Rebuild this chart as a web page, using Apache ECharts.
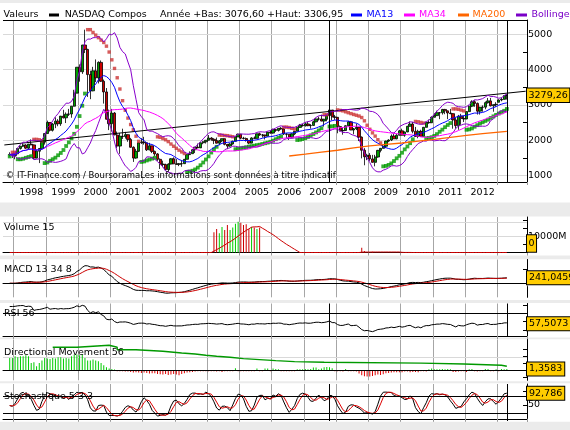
<!DOCTYPE html>
<html>
<head>
<meta charset="utf-8">
<script src="https://cdn.jsdelivr.net/npm/echarts@6.0.0/dist/echarts.min.js"></script>
<style>
html,body{margin:0;padding:0;background:#EBEBEB;}
#chart{width:570px;height:430px;}
</style>
</head>
<body>
<div id="chart"></div>
<script>
// ---------------- data (monthly NASDAQ Composite) ----------------
const axisStart = '1997-09';
const axisEnd = '2013-11';
const firstDataMonth = '1997-11';
const yearLabels = ['1998','1999','2000','2001','2002','2003','2004','2005','2006','2007','2008','2009','2010','2011','2012'];

const opens = [1593,1601,
1570,1619,1771,1836,1868,1779,1895,1872,1499,1694,1771,1950,
2193,2506,2288,2461,2543,2471,2686,2638,2739,2746,2966,3336,
4069,3940,4697,4573,3861,3401,3966,3767,4206,3673,3370,2598,
2471,2773,2152,1840,2116,2110,2161,2027,1805,1499,1690,1931,
1950,1934,1731,1845,1688,1616,1463,1328,1315,1172,1330,1479,
1336,1321,1338,1341,1464,1596,1623,1735,1810,1787,1932,1960,
2003,2066,2030,1994,1920,1987,2048,1887,1838,1897,1975,2097,
2175,2062,2052,1999,1922,2068,2057,2185,2152,2152,2120,2233,
2205,2306,2281,2340,2323,2179,2172,2091,2184,2258,2367,2432,
2415,2464,2416,2422,2525,2605,2603,2546,2596,2702,2859,2661,
2652,2390,2271,2279,2413,2523,2293,2326,2368,2092,1721,1536,
1577,1476,1378,1529,1717,1774,1835,1979,2009,2122,2045,2145,
2269,2147,2238,2398,2461,2257,2109,2255,2114,2369,2507,2498,
2653,2700,2782,2781,2874,2835,2774,2756,2579,2415,2684,2620,
2605,2814,2967,3092,3046,2827,2935,2940,3067,3116,2977,3010,
3077,3142,3160,3268];
const highs = [1662,1633,
1630,1774,1842,1912,1890,1896,2028,1885,1740,1780,1960,2200,
2558,2507,2490,2652,2600,2690,2865,2790,2890,2970,3430,4070,
4150,4700,5132,4590,3970,4080,4290,4235,4260,3720,3480,2870,
2890,2800,2250,2210,2330,2240,2170,2070,1830,1760,1940,2060,
2100,1935,1930,1845,1710,1640,1490,1425,1340,1350,1495,1520,
1470,1360,1440,1470,1600,1690,1760,1812,1910,1940,1980,2010,
2150,2090,2060,2080,2010,2050,2050,1890,1920,1990,2110,2190,
2180,2100,2080,2010,2090,2110,2190,2220,2180,2160,2240,2280,
2333,2310,2345,2375,2350,2200,2175,2200,2265,2370,2465,2470,
2510,2530,2460,2560,2625,2670,2725,2610,2720,2861,2860,2720,
2660,2420,2370,2430,2550,2550,2350,2475,2370,2110,1780,1620,
1640,1590,1590,1730,1780,1880,1990,2030,2170,2190,2190,2295,
2330,2250,2410,2535,2520,2380,2300,2300,2380,2530,2590,2680,
2770,2840,2800,2890,2890,2840,2890,2770,2650,2720,2750,2700,
2820,2990,3135,3135,3070,2950,2990,3100,3200,3200,3020,3080,
3160,3213,3270,3307];
const lows = [1545,1502,
1465,1612,1740,1810,1760,1730,1860,1475,1490,1357,1765,1880,
2190,2250,2250,2345,2400,2410,2620,2490,2690,2640,2955,3335,
3660,3880,4470,3228,3165,3390,3650,3610,3650,3040,2590,2290,
2250,2150,1780,1620,2040,2050,1960,1790,1390,1480,1670,1900,
1880,1700,1720,1640,1560,1420,1190,1240,1165,1108,1320,1330,
1310,1271,1253,1340,1460,1590,1620,1640,1780,1785,1890,1910,
2000,1990,1895,1915,1860,1950,1860,1750,1820,1880,1970,2095,
2030,2025,1965,1890,1915,2040,2050,2130,2080,2025,2110,2190,
2190,2240,2250,2300,2150,2065,2010,2060,2150,2250,2360,2390,
2390,2400,2330,2410,2510,2560,2540,2390,2540,2690,2570,2580,
2200,2250,2160,2270,2400,2290,2170,2290,1980,1490,1295,1440,
1420,1370,1265,1510,1660,1770,1780,1950,1980,2040,2030,2140,
2140,2100,2230,2390,2200,2100,2060,2100,2110,2360,2470,2490,
2650,2690,2600,2730,2740,2600,2740,2330,2330,2300,2440,2520,
2600,2800,2940,2950,2730,2730,2810,2880,3040,2960,2810,2950,
3077,3105,3150,3154];
const closes = [1601,1570,
1619,1771,1836,1868,1779,1895,1872,1499,1694,1771,1950,2193,
2506,2288,2461,2543,2471,2686,2638,2739,2746,2966,3336,4069,
3940,4697,4573,3861,3401,3966,3767,4206,3673,3370,2598,2471,
2773,2152,1840,2116,2110,2161,2027,1805,1499,1690,1931,1950,
1934,1731,1845,1688,1616,1463,1328,1315,1172,1330,1479,1336,
1321,1338,1341,1464,1596,1623,1735,1810,1787,1932,1960,2003,
2066,2030,1994,1920,1987,2048,1887,1838,1897,1975,2097,2175,
2062,2052,1999,1922,2068,2057,2185,2152,2152,2120,2233,2205,
2306,2281,2340,2323,2179,2172,2091,2184,2258,2367,2432,2415,
2464,2416,2422,2525,2605,2603,2546,2596,2702,2859,2661,2652,
2390,2271,2279,2413,2523,2293,2326,2368,2092,1721,1536,1577,
1476,1378,1529,1717,1774,1835,1979,2009,2122,2045,2145,2269,
2147,2238,2398,2461,2257,2109,2255,2114,2369,2507,2498,2653,
2700,2782,2781,2874,2835,2774,2756,2579,2415,2684,2620,2605,
2814,2967,3092,3046,2827,2935,2940,3067,3116,2977,3010,3020,
3142,3160,3268,3279.26];

// Directional Movement histogram (one bar per month, Nov 1997 .. Apr 2013)
const dmHist = [12.3,12.3,
14,13,14,14,15,14,7.3,8,4,7.3,9.7,12.3,
11.7,11.3,12.3,11.7,13,13,11.7,12.3,11.7,14,15.7,15.7,
15,15.7,12.3,9.7,9.7,10.7,9.7,9,7.3,5,3,1.7,
1.3,0.7,-1,-1,-1,-1.3,-1.3,-1.7,-2.3,-2,-2.3,-2.7,
-2.3,-2.7,-3.3,-3,-3,-3.7,-4,-4.3,-3.7,-4.7,-4.3,-3.7,
-4.3,-5,-3.7,-3,-2.3,-2,-1.7,-1.3,-1,-1,-1,-1,
-1,-1,-1,-1.3,-1,-1.7,-1,-1,-1,-1,2,-1,
-1,-1,-1,-1,-1,-1,1.7,-1,-1,1.7,1.7,-1,
1.7,1.3,1,-1,-1,-1,-1,-1,-1,1,1,1,
1.3,1,1.3,2.7,2.7,1,1.7,3,3.3,3,2,-1,
-1,-1,-1.3,1.3,-1,-1,-1,-1.3,-3.3,-5,-6,-6.3,
-6.3,-5.7,-5,-4.3,-4.7,-4,-3,-2.7,-2.3,-2,-2,-2,
-2,-1.3,-1.3,-2,-1.7,-1.7,-2,-1,-1,-1.3,1,1.7,
1,1,1,1.3,1,1.3,1,-1.7,-1.7,-1.3,-1,-1,
-1.7,1,1.3,-1,-1.3,-1,-1,1.3,1.3,-1,-1,1,
-1,1.3,1,1.36];

// green line of the Directional Movement panel (value held until the next point)
const adxMonths = ['1999-03','1999-12','2000-12','2001-03','2001-10','2002-08','2003-03','2003-08','2003-12','2004-04','2004-09','2005-02','2005-08','2006-02','2006-09','2007-08','2010-08','2011-12','2013-02','2013-04'];
const adxValues = [23,25,23,20.6,19,17.3,16.3,15,14,13,11.7,10.7,9.7,8.7,8,7.2,6.3,5,4,4];

// MA200 (needs history older than the window)
const ma200Months = ['2006-07','2007-01','2007-07','2008-01','2008-07','2009-01','2009-07','2010-01','2010-07','2011-01','2011-07','2012-01','2012-07','2013-01','2013-04'];
const ma200Values = [1557,1610,1665,1720,1790,1845,1885,1925,1980,2030,2085,2140,2190,2235,2255];

// long-term trend line end points
const trendMonths = ['1997-09','2013-11'];
const trendValues = [1870,3390];

// volume (millions) - only these months carry volume in the picture
const volMonths = ['2004-03','2004-04','2004-05','2004-06','2004-07','2004-08','2004-09','2004-10','2004-11','2004-12','2005-01','2005-02','2005-03','2005-04','2005-05','2005-06','2005-07','2005-08','2008-10','2008-11','2009-02'];
const volValues = [12500,14500,11900,15800,13900,17000,13900,15400,17700,18900,18300,17000,17400,14500,15800,15400,14500,15400,2900,1000,500];

// last values shown in the right-hand boxes
const lastLabels = {price:'3279,26', volume:'0', macd:'241,0459', rsi:'57,5073', dm:'1,3583', stoch:'92,786'};
const lastValues = {price:3279.26, volume:0, macd:241.0459, rsi:57.5073, dm:1.3583, stoch:92.786};

// ---------------- categories ----------------
const categories = [];
for (let y = 1997; y <= 2013; y++) for (let m = 1; m <= 12; m++) {
  const k = y + '-' + (m < 10 ? '0' : '') + m;
  if (k >= axisStart && k <= axisEnd) categories.push(k);
}
const s0 = categories.indexOf(firstDataMonth);
const months = categories.slice(s0, s0 + closes.length);

// ---------------- indicators named on the chart, derived from the candles ----------------
function sma(a, p) {
  return a.map((_, i) => { const s = Math.max(0, i - p + 1); let t = 0; for (let j = s; j <= i; j++) t += a[j]; return t / (i - s + 1); });
}
function boll(a, p, k) {
  const m = sma(a, p), up = [], lo = [];
  a.forEach((_, i) => { const s = Math.max(0, i - p + 1); let v = 0; for (let j = s; j <= i; j++) v += (a[j] - m[i]) ** 2; const sd = Math.sqrt(v / (i - s + 1)); up.push(m[i] + k * sd); lo.push(m[i] - k * sd); });
  return {up, lo};
}
function ema(a, p) { const k = 2 / (p + 1); const o = []; a.forEach((v, i) => o.push(i ? o[i - 1] + k * (v - o[i - 1]) : v)); return o; }
function wilder(x, p, seedN) {
  let s = 0; for (let i = 1; i <= seedN; i++) s += x[i]; let a = s / seedN;
  const out = new Array(x.length);
  for (let i = 1; i < x.length; i++) { const n = Math.min(seedN + i, p); a = a + (x[i] - a) / n; out[i] = a; }
  out[0] = out[1]; return out;
}
function psar(H, L, step, maxAf) {
  const sar = [], up = [];
  let isUp = true, af = step, ep = H[0], s = L[0];
  sar.push(s); up.push(true);
  for (let i = 1; i < H.length; i++) {
    s = s + af * (ep - s);
    if (isUp) {
      s = Math.min(s, L[i - 1], i > 1 ? L[i - 2] : L[i - 1]);
      if (L[i] < s) { isUp = false; s = ep; ep = L[i]; af = step; }
      else if (H[i] > ep) { ep = H[i]; af = Math.min(af + step, maxAf); }
    } else {
      s = Math.max(s, H[i - 1], i > 1 ? H[i - 2] : H[i - 1]);
      if (H[i] > s) { isUp = true; s = ep; ep = H[i]; af = step; }
      else if (L[i] < ep) { ep = L[i]; af = Math.min(af + step, maxAf); }
    }
    sar.push(s); up.push(isUp);
  }
  return {sar, up};
}

const ma13 = sma(closes, 13);
const ma34 = sma(closes, 34);
const bb = boll(closes, 13, 2);
const sarRes = psar(highs, lows, 0.02, 0.2);
const ema13 = ema(closes, 13), ema34 = ema(closes, 34);
const macd = ema13.map((v, i) => v - ema34[i]);
const signal = ema(macd, 8);

const gains = closes.map((c, i) => i ? Math.max(c - closes[i - 1], 0) : 0);
const losses = closes.map((c, i) => i ? Math.max(closes[i - 1] - c, 0) : 0);
const ag = wilder(gains, 56, 28), al = wilder(losses, 56, 28);
const rsi = ag.map((g, i) => 100 * g / (g + al[i]));

const rawK = closes.map((c, i) => { const s = Math.max(0, i - 4); let hh = -Infinity, ll = Infinity; for (let j = s; j <= i; j++) { hh = Math.max(hh, highs[j]); ll = Math.min(ll, lows[j]); } return hh > ll ? 100 * (c - ll) / (hh - ll) : 50; });
const stochK = sma(rawK, 3);
const stochD = sma(stochK, 3);

const volFull = months.map(m => { const j = volMonths.indexOf(m); return j >= 0 ? volValues[j] : 0; });
const volMA = sma(volFull, 15);

// ---------------- styling helpers ----------------
const FONT = 'DejaVu Sans';
const FS = 9.5;
const GREEN = '#00A000', RED = '#CC0000';
const isJan = (i, v) => v.slice(5) === '01';
const pair = arr => arr.map((v, i) => [months[i], v]);

const grids = [
  {left: 3, top: 20, width: 524, height: 162},
  {left: 3, top: 217, width: 524, height: 35.5},
  {left: 3, top: 259.5, width: 524, height: 37.8},
  {left: 3, top: 303.5, width: 524, height: 32.5},
  {left: 3, top: 339.5, width: 524, height: 40.8},
  {left: 3, top: 384, width: 524, height: 37}
];
const yRanges = [[822, 5405], [0, 21900], [-620, 1050], [42.7, 81.8], [-10, 30.8], [-8, 126]];
const yTicks = [[1000,1500,2000,2500,3000,3500,4000,4500,5000], [5000,10000,15000,20000], [600], [50,60,80], [-7,7.3,14,20.7], [50,100]];
const yLabs = [[1000,2000,3000,4000,5000], [10000], [], [], [], [50]];

const xAxes = grids.map((g, k) => ({
  type: 'category', gridIndex: k, data: categories, boundaryGap: true,
  axisLine: {show: true, lineStyle: {color: '#000', width: 1}},
  axisTick: {show: true, interval: isJan, length: 3, lineStyle: {color: '#999'}},
  splitLine: {show: true, interval: isJan, lineStyle: {color: '#A6A6A6', width: 1}},
  axisLabel: k === 0 ? {
    show: true, interval: (i, v) => v.slice(5) === '07' && yearLabels.includes(v.slice(0, 4)),
    formatter: v => v.slice(0, 4), color: '#000', fontFamily: FONT, fontSize: FS, margin: 6
  } : {show: false}
}));
const yAxes = grids.map((g, k) => ({
  type: 'value', gridIndex: k, position: 'right', min: yRanges[k][0], max: yRanges[k][1], scale: true,
  axisLine: {show: true, lineStyle: {color: '#000', width: 1}},
  axisTick: {show: true, inside: true, length: 4, customValues: yTicks[k], lineStyle: {color: '#000'}},
  axisLabel: {show: yLabs[k].length > 0, customValues: yLabs[k], margin: 1, color: '#000', fontFamily: FONT, fontSize: FS,
    formatter: v => k === 1 ? v + 'M' : String(v)},
  splitLine: {show: false}
}));

const vLines = (extra) => ({
  symbol: 'none', silent: true, label: {show: false}, animation: false,
  lineStyle: {color: '#000', type: 'solid', width: 1},
  data: extra
});
const greyLines = (vals) => ({
  symbol: 'none', silent: true, label: {show: false}, z: 1, animation: false,
  lineStyle: {color: '#D9D9D9', type: 'solid', width: 1},
  data: vals.map(v => ({yAxis: v}))
});

const line = (k, data, color, width, extra) => Object.assign({
  type: 'line', xAxisIndex: k, yAxisIndex: k, data, symbol: 'none', silent: true, animation: false,
  lineStyle: {color, width}, itemStyle: {color}
}, extra || {});

const sarUp = [], sarDn = [];
sarRes.sar.forEach((v, i) => (sarRes.up[i] ? sarUp : sarDn).push([months[i], v]));

const series = [
  line(0, trendMonths.map((m, i) => [m, trendValues[i]]), '#000', 1, {markLine: greyLines([1000, 2000, 3000, 4000, 5000])}),
  {
    type: 'candlestick', xAxisIndex: 0, yAxisIndex: 0, silent: true, animation: false,
    data: months.map((m, i) => [m, opens[i], closes[i], lows[i], highs[i]]),
    encode: {x: 0, y: [1, 2, 3, 4]}, barWidth: 2.8,
    itemStyle: {color: GREEN, color0: RED, borderColor: '#000', borderColor0: '#000', borderWidth: 0.8},
    markLine: vLines([{xAxis: '2007-10'}, {xAxis: '2013-04'}])
  },
  line(0, pair(bb.up), '#8800CC', 1),
  line(0, pair(bb.lo), '#8800CC', 1),
  line(0, pair(ma34), '#FF00FF', 1),
  line(0, pair(ma13), '#0000FF', 1),
  line(0, ma200Months.map((m, i) => [m, ma200Values[i]]), '#FF6600', 1.3),
  {type: 'scatter', xAxisIndex: 0, yAxisIndex: 0, data: sarUp, symbol: 'rect', symbolSize: 3.8, silent: true, animation: false, itemStyle: {color: '#009900'}},
  {type: 'scatter', xAxisIndex: 0, yAxisIndex: 0, data: sarDn, symbol: 'rect', symbolSize: 3.4, silent: true, animation: false, itemStyle: {color: '#CC3333'}},
  // volume
  {type: 'bar', xAxisIndex: 1, yAxisIndex: 1, barWidth: 1, silent: true, animation: false,
    data: volMonths.map((m, j) => { const i = months.indexOf(m); return {value: [m, volValues[j]], itemStyle: {color: closes[i] >= opens[i] ? '#00CC00' : RED}}; })},
  line(1, pair(volMA), RED, 1, {markLine: greyLines([10000, 18500])}),
  // MACD
  line(2, pair(macd), '#000', 1, {markLine: vLines([{yAxis: 0}])}),
  line(2, pair(signal), RED, 1),
  // RSI
  line(3, pair(rsi), '#000', 1, {markLine: vLines([{yAxis: 70}, {xAxis: '2007-10'}, {xAxis: '2013-04'}])}),
  // Directional movement
  {type: 'bar', xAxisIndex: 4, yAxisIndex: 4, barWidth: 1, silent: true, animation: false,
    data: dmHist.map((v, i) => ({value: [months[i], v], itemStyle: {color: v >= 0 ? '#00CC00' : '#DD0000'}})),
    markLine: vLines([{yAxis: 0}])},
  line(4, adxMonths.map((m, i) => [m, adxValues[i]]), '#009900', 1.4, {step: 'end', markLine: greyLines([13])}),
  // Stochastic
  line(5, pair(stochK), '#000', 1, {markLine: vLines([{yAxis: 20}, {yAxis: 80}, {xAxis: '2007-10'}, {xAxis: '2013-04'}])}),
  line(5, pair(stochD), '#DD0000', 1)
];

const chart = echarts.init(document.getElementById('chart'), null, {width: 570, height: 430});
chart.setOption({
  backgroundColor: '#EBEBEB',
  animation: false,
  grid: grids,
  xAxis: xAxes,
  yAxis: yAxes,
  series
});

// ---------------- text, legend and value boxes ----------------
const font = (s) => s + 'px "' + FONT + '"';
const T = (x, y, text, fill, size) => ({type: 'text', x, y, z: 100, silent: true,
  style: {text, fill: fill || '#000', font: font(size || FS), align: 'left', verticalAlign: 'middle', textAlign: 'left', textVerticalAlign: 'middle'}});
const R = (x, y, w, h, fill, z) => ({type: 'rect', z: z === undefined ? 100 : z, silent: true, shape: {x, y, width: w, height: h}, style: {fill}});
const B = (x, y, text, pad) => ({type: 'text', x, y, z: 120, silent: true,
  style: {text, fill: '#000', font: font(FS), align: 'left', verticalAlign: 'middle', textAlign: 'left', textVerticalAlign: 'middle',
    backgroundColor: '#FFCC00', borderColor: '#000', borderWidth: 1, padding: pad || [2, 2, 1, 2]}});
const py = (k, v) => chart.convertToPixel({yAxisIndex: k}, v);

const graphics = [
  R(0, 3, 570, 199.5, '#FFFFFF', -100),
  R(0, 216.5, 570, 39, '#FFFFFF', -100),
  R(0, 259.3, 570, 40.7, '#FFFFFF', -100),
  R(0, 303, 570, 34.5, '#FFFFFF', -100),
  R(0, 339.3, 570, 42, '#FFFFFF', -100),
  R(0, 383.3, 570, 38.5, '#FFFFFF', -100),
  {type: 'line', z: 50, silent: true, shape: {x1: 3, y1: 20.5, x2: 527, y2: 20.5}, style: {stroke: '#000', lineWidth: 1}},
  T(3.6, 15, 'Valeurs'),
  R(49, 13.5, 10, 3, '#000'),
  T(64.7, 15, 'NASDAQ Compos'),
  T(160, 15, 'Année +Bas: 3076,60 +Haut: 3306,95'),
  R(351, 13.5, 11, 3, '#0000FF'),
  T(366.4, 15, 'MA13', '#0000FF'),
  R(404, 13.5, 11, 3, '#FF00FF'),
  T(419, 15, 'MA34', '#FF00FF'),
  R(458, 13.5, 11, 3, '#FF6600'),
  T(472.5, 15, 'MA200', '#FF6600'),
  R(516, 13.5, 11, 3, '#7A00C8'),
  T(531.4, 15, 'Bollinger', '#7A00C8'),
  T(5.7, 175.7, '© IT-Finance.com / BoursoramaLes informations sont données à titre indicatif', '#000', 8.5),
  T(4, 227.3, 'Volume 15'),
  T(4, 269.3, 'MACD 13 34 8'),
  T(4, 313.3, 'RSI 56'),
  T(4, 352.7, 'Directional Movement 56'),
  T(4, 396.7, 'Stochastique 5 3 3'),
  B(527, py(0, lastValues.price), lastLabels.price, [2, 1.5, 1.5, 1.5]),
  B(527, py(1, lastValues.volume) - 9, lastLabels.volume, [3.5, 1.5, 3, 1.5]),
  B(527, py(2, lastValues.macd), lastLabels.macd),
  B(527, py(3, lastValues.rsi), lastLabels.rsi),
  B(527, py(4, lastValues.dm), lastLabels.dm),
  B(527, py(5, lastValues.stoch), lastLabels.stoch)
];
chart.setOption({graphic: graphics});
</script>
</body>
</html>
